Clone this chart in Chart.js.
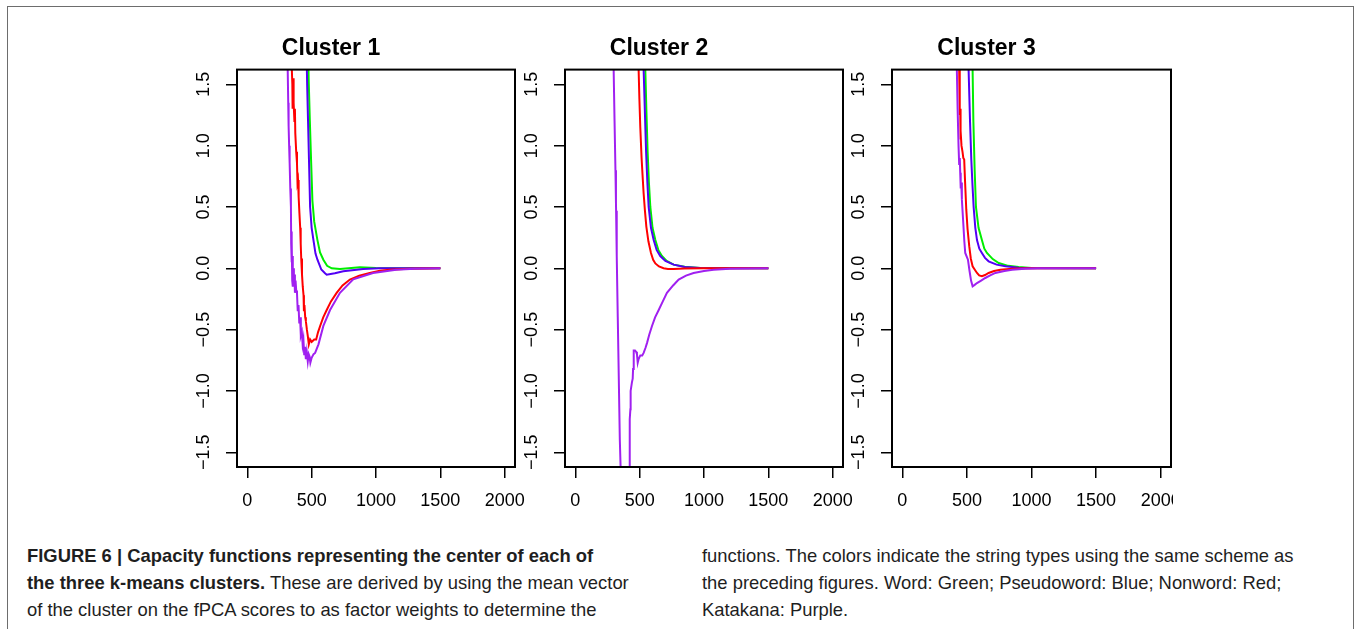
<!DOCTYPE html>
<html lang="en">
<head>
  <meta charset="UTF-8" />
  <script src="https://cdn.jsdelivr.net/npm/chart.js"></script>
  <title>Capacity functions by cluster</title>
  <style>
    body { margin: 0; background: #fff; width: 1357px; height: 629px; overflow: hidden; position: relative; font-family: "Liberation Sans", Arial, sans-serif; }
    .frame { position: absolute; left: 7px; top: 6px; width: 1345px; height: 700px; border: 1.5px solid #6d6d6d; border-bottom: none; }
    canvas { position: absolute; top: 0; }
    .cap { position: absolute; top: 542px; font-size: 18.4px; line-height: 27px; color: #1e1e1e; white-space: nowrap; }
    .cap b { font-weight: bold; }
  </style>
</head>
<body>
  <div class="frame"></div>
  <canvas id="c1"></canvas>
  <canvas id="c2"></canvas>
  <canvas id="c3"></canvas>

  <div class="cap" style="left:27px">
    <b>FIGURE 6 | Capacity functions representing the center of each of</b><br>
    <b>the three k-means clusters.</b> These are derived by using the mean vector<br>
    of the cluster on the fPCA scores to as factor weights to determine the
  </div>
  <div class="cap" style="left:702px">
    functions. The colors indicate the string types using the same scheme as<br>
    the preceding figures. Word: Green; Pseudoword: Blue; Nonword: Red;<br>
    Katakana: Purple.
  </div>

  <script>
    // axis ticks
    const xTicks = [0, 500, 1000, 1500, 2000];
    const yTicks = [-1.5, -1.0, -0.5, 0.0, 0.5, 1.0, 1.5];
    const yTickLabels = ['\u22121.5', '\u22121.0', '\u22120.5', '0.0', '0.5', '1.0', '1.5'];
    const clusterTitles = ['Cluster 1', 'Cluster 2', 'Cluster 3'];
    const seriesNames = ['Word', 'Pseudoword', 'Nonword', 'Katakana'];

    // cluster 1  [time, capacity]
    const c1Word = [[470,1.9],[478,1.5],[486,1.2],[495,0.9],[506,0.55],[520,0.38],[545,0.23],[565,0.13],[591,0.07],[620,0.02],[656,0.0],[720,-0.005],[874,0.008],[1000,0.002],[1500,0]];
    const c1Pseudo = [[458,1.9],[465,1.5],[472,1.2],[480,0.85],[488,0.5],[500,0.33],[514,0.23],[530,0.12],[545,0.07],[575,-0.01],[604,-0.04],[617,-0.052],[680,-0.04],[746,-0.024],[900,-0.005],[1028,0],[1500,0]];
    const c1Non = [[335,1.9],[345,1.65],[350,1.5],[352,1.3],[356,1.55],[360,1.35],[366,1.2],[370,1.3],[373,1.1],[380,0.95],[386,0.86],[390,0.7],[394,0.72],[399,0.58],[405,0.45],[411,0.33],[415,0.2],[419,0.08],[425,-0.05],[431,-0.15],[437,-0.22],[440,-0.35],[444,-0.3],[450,-0.4],[455,-0.43],[463,-0.5],[470,-0.55],[478,-0.62],[488,-0.58],[500,-0.6],[520,-0.58],[535,-0.58],[550,-0.52],[566,-0.47],[590,-0.4],[617,-0.34],[650,-0.27],[694,-0.2],[740,-0.14],[797,-0.092],[870,-0.06],[951,-0.038],[1030,-0.02],[1106,-0.011],[1250,-0.003],[1500,0]];
    const c1Kata = [[305,2.0],[314,1.62],[318,1.35],[321,1.16],[325,1.0],[329,0.86],[334,0.65],[339,0.5],[341,0.2],[343,0.3],[345,0.05],[347,0.22],[349,-0.1],[352,0.1],[355,-0.15],[358,0.0],[362,-0.12],[366,-0.05],[370,-0.2],[375,-0.1],[380,-0.18],[386,-0.2],[392,-0.35],[398,-0.3],[404,-0.45],[410,-0.4],[416,-0.55],[424,-0.52],[430,-0.62],[436,-0.58],[442,-0.7],[448,-0.64],[455,-0.74],[462,-0.68],[470,-0.76],[477,-0.7],[484,-0.72],[490,-0.77],[500,-0.73],[515,-0.7],[527,-0.69],[553,-0.62],[591,-0.47],[643,-0.34],[720,-0.2],[823,-0.09],[977,-0.038],[1157,-0.011],[1300,-0.003],[1500,0]];

    // cluster 2
    const c2Word = [[535,1.9],[544,1.62],[552,1.3],[562,0.95],[572,0.7],[583,0.5],[600,0.33],[622,0.23],[645,0.15],[673,0.1],[710,0.06],[764,0.03],[850,0.012],[971,0.003],[1500,0]];
    const c2Pseudo = [[522,1.9],[531,1.62],[540,1.3],[550,0.95],[560,0.7],[570,0.5],[588,0.33],[609,0.23],[632,0.15],[660,0.1],[700,0.06],[764,0.03],[850,0.01],[971,0.002],[1500,0]];
    const c2Non = [[485,1.9],[492,1.62],[498,1.38],[505,1.15],[515,0.9],[523,0.75],[531,0.61],[541,0.47],[552,0.34],[568,0.22],[588,0.125],[605,0.07],[622,0.04],[650,0.015],[686,0.0],[720,-0.005],[764,-0.005],[850,-0.002],[1000,0],[1500,0]];
    const c2Kata = [[290,2.0],[298,1.62],[305,1.2],[312,0.8],[316,0.53],[317,0.47],[322,0.1],[330,-0.4],[338,-0.9],[346,-1.4],[352,-1.62],[360,-2.0],[385,-2.6],[420,-1.62],[421,-1.45],[425,-1.23],[428,-1.15],[430,-1.0],[440,-0.93],[446,-0.9],[449,-0.82],[452,-0.72],[456,-0.67],[464,-0.67],[472,-0.68],[479,-0.7],[485,-0.77],[492,-0.74],[505,-0.71],[520,-0.71],[531,-0.69],[545,-0.65],[557,-0.61],[575,-0.54],[596,-0.47],[620,-0.4],[648,-0.34],[680,-0.27],[712,-0.2],[760,-0.14],[803,-0.092],[860,-0.06],[919,-0.038],[1000,-0.022],[1075,-0.011],[1200,-0.004],[1500,0]];

    // cluster 3
    const c3Word = [[536,1.9],[544,1.62],[550,1.2],[560,0.8],[570,0.5],[590,0.33],[616,0.23],[635,0.16],[655,0.125],[700,0.075],[746,0.043],[820,0.02],[901,0.01],[1000,0.002],[1500,0]];
    const c3Pseudo = [[505,1.9],[513,1.62],[524,1.2],[534,0.886],[543,0.68],[552,0.5],[565,0.33],[578,0.23],[596,0.16],[616,0.125],[640,0.085],[668,0.057],[730,0.03],[798,0.016],[900,0.004],[1000,0],[1500,0]];
    const c3Non = [[430,1.9],[440,1.62],[443,1.4],[446,1.25],[448,1.3],[450,1.05],[452,1.12],[458,1.0],[466,0.95],[472,0.9],[479,0.886],[486,0.7],[495,0.48],[505,0.32],[518,0.18],[530,0.08],[544,0.016],[560,-0.01],[578,-0.038],[595,-0.058],[616,-0.065],[640,-0.055],[668,-0.038],[710,-0.022],[759,-0.011],[850,-0.003],[1000,0],[1500,0]];
    const c3Kata = [[410,2.0],[422,1.62],[428,1.3],[435,1.0],[440,0.85],[445,0.9],[448,0.78],[452,0.65],[456,0.7],[461,0.56],[470,0.4],[480,0.22],[487,0.125],[508,0.07],[520,-0.02],[532,-0.1],[544,-0.147],[560,-0.135],[578,-0.12],[610,-0.1],[642,-0.079],[680,-0.058],[720,-0.038],[790,-0.022],[850,-0.011],[950,-0.003],[1050,0],[1500,0]];

    const clusters = [
      [c1Word, c1Pseudo, c1Non, c1Kata],
      [c2Word, c2Pseudo, c2Non, c2Kata],
      [c3Word, c3Pseudo, c3Non, c3Kata]
    ];
    const colors = ['#00ee00', '#5200f5', '#ff0000', '#a020f0'];

    // plot box of each panel in page pixels
    const panels = [
      { left: 237, right: 515, canvasRight: 535 },
      { left: 565, right: 843, canvasRight: 863 },
      { left: 892, right: 1171, canvasRight: 1173 }
    ];
    const LEFT_SPACE = 90, CANVAS_H = 530, PLOT_BOTTOM = 467;
    const FONT = '"Liberation Sans", Arial, sans-serif';

    // R style frame + tick labels
    const rAxes = {
      id: 'rAxes',
      afterDraw(chart) {
        const { ctx, chartArea: a, scales } = chart;
        ctx.save();
        ctx.strokeStyle = '#000';
        ctx.lineWidth = 2;
        ctx.strokeRect(a.left, a.top, a.right - a.left, a.bottom - a.top);
        ctx.fillStyle = '#000';
        ctx.font = '18px ' + FONT;
        ctx.textAlign = 'center';
        ctx.textBaseline = 'middle';
        xTicks.forEach(v => {
          ctx.fillText(String(v), scales.x.getPixelForValue(v), a.bottom + 34);
        });
        yTicks.forEach((v, i) => {
          ctx.save();
          ctx.translate(a.left - 33, scales.y.getPixelForValue(v));
          ctx.rotate(-Math.PI / 2);
          ctx.fillText(yTickLabels[i], 0, 0);
          ctx.restore();
        });
        ctx.restore();
      }
    };

    clusters.forEach((series, i) => {
      const p = panels[i];
      const canvas = document.getElementById('c' + (i + 1));
      const cLeft = p.left - LEFT_SPACE;
      const cWidth = p.canvasRight - cLeft;
      canvas.width = cWidth;
      canvas.height = CANVAS_H;
      canvas.style.left = cLeft + 'px';
      canvas.style.width = cWidth + 'px';
      canvas.style.height = CANVAS_H + 'px';

      new Chart(canvas.getContext('2d'), {
        type: 'line',
        data: {
          datasets: series.map((pts, k) => ({
            label: seriesNames[k],
            data: pts.map(d => ({ x: d[0], y: d[1] })),
            borderColor: colors[k],
            borderWidth: 2,
            pointRadius: 0,
            tension: 0,
            fill: false,
            order: 3 - k
          }))
        },
        options: {
          responsive: false,
          devicePixelRatio: 1,
          animation: false,
          layout: { padding: { left: 0, top: 0, right: p.canvasRight - p.right, bottom: 0 } },
          plugins: {
            legend: { display: false },
            tooltip: { enabled: false },
            title: {
              display: true,
              text: clusterTitles[i],
              color: '#000',
              font: { size: 23, weight: 'bold', family: FONT },
              padding: { top: 35, bottom: 7 }
            }
          },
          scales: {
            x: {
              type: 'linear',
              min: -80, max: 2080,
              afterBuildTicks: s => { s.ticks = xTicks.map(v => ({ value: v })); },
              afterFit: s => { s.height = CANVAS_H - PLOT_BOTTOM; },
              ticks: { display: false },
              border: { display: false },
              grid: { drawOnChartArea: false, drawTicks: true, tickLength: 11, color: '#000', lineWidth: 1.5 }
            },
            y: {
              type: 'linear',
              min: -1.62, max: 1.62,
              afterBuildTicks: s => { s.ticks = yTicks.map(v => ({ value: v })); },
              afterFit: s => { s.width = LEFT_SPACE; },
              ticks: { display: false },
              border: { display: false },
              grid: { drawOnChartArea: false, drawTicks: true, tickLength: 11, color: '#000', lineWidth: 1.5 }
            }
          }
        },
        plugins: [rAxes]
      });
    });
  </script>
</body>
</html>
